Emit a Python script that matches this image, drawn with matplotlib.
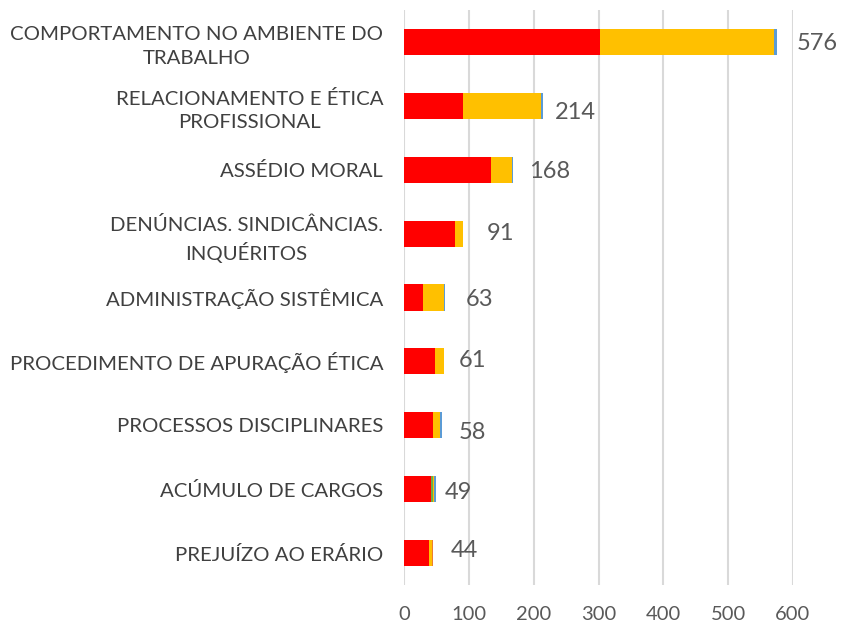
import numpy as np
import matplotlib
matplotlib.use("Agg")
import matplotlib.pyplot as plt

plt.rcParams.update({"font.family": ["Lato", "DejaVu Sans"]})

categorias = ["COMPORTAMENTO NO AMBIENTE DO\nTRABALHO",
              "RELACIONAMENTO E ÉTICA\nPROFISSIONAL",
              "ASSÉDIO MORAL",
              "DENÚNCIAS. SINDICÂNCIAS.\nINQUÉRITOS",
              "ADMINISTRAÇÃO SISTÊMICA",
              "PROCEDIMENTO DE APURAÇÃO ÉTICA",
              "PROCESSOS DISCIPLINARES",
              "ACÚMULO DE CARGOS",
              "PREJUÍZO AO ERÁRIO"]
serie_vermelha = [303, 91, 134, 78, 29, 48, 45, 41, 39]
serie_verde = [0, 0, 0, 0, 0, 0, 0, 3, 0]
serie_amarela = [268, 121, 32, 13, 32, 13, 11, 3, 4]
serie_azul = [5, 2, 2, 0, 2, 0, 2, 2, 0]
serie_laranja = [0, 0, 0, 0, 0, 0, 0, 0, 1]
totais = [576, 214, 168, 91, 63, 61, 58, 49, 44]

# deslocamentos dos rótulos (px) como no original
dx_rot = [19, 12, 16, 24, 21, 15, 17, 9, 18]
dy_rot = [-2, -7, -2, 0, -2, 1, -7, -3, 3]

series = [(serie_vermelha, "#FF0000"), (serie_verde, "#70AD47"),
          (serie_amarela, "#FFC000"), (serie_azul, "#5B9BD5"),
          (serie_laranja, "#ED7D31")]

fig = plt.figure(figsize=(8.41, 6.23), dpi=100)
ax = fig.add_axes([404 / 841, 38 / 623, 389 / 841, 575 / 623])

y = np.arange(len(categorias))
esq = np.zeros(len(categorias))
for vals, cor in series:
    v = np.array(vals, dtype=float)
    ax.barh(y, v, left=esq, height=0.41, color=cor, zorder=3)
    esq += v

for i, t in enumerate(totais):
    ax.annotate(str(t), (esq[i], y[i]), xytext=(dx_rot[i] * 0.72, dy_rot[i] * 0.72),
                textcoords="offset points", ha="left", va="center",
                fontsize=17, color="#595959")

ax.set_xlim(0, 600)
ax.set_ylim(len(categorias) - 0.5, -0.5)
ax.set_xticks(range(0, 601, 100))
ax.set_yticks(y)
ax.set_yticklabels(categorias, multialignment="center", linespacing=1.45)
ax.tick_params(axis="y", length=0, pad=15, labelsize=14.7, labelcolor="#404040")
ax.tick_params(axis="x", length=0, pad=15, labelsize=14.5, labelcolor="#595959")
ax.xaxis.grid(True, color="#D9D9D9", lw=1.5, zorder=0)
for s in ax.spines.values():
    s.set_visible(False)

fig.savefig("out.png", dpi=100)
